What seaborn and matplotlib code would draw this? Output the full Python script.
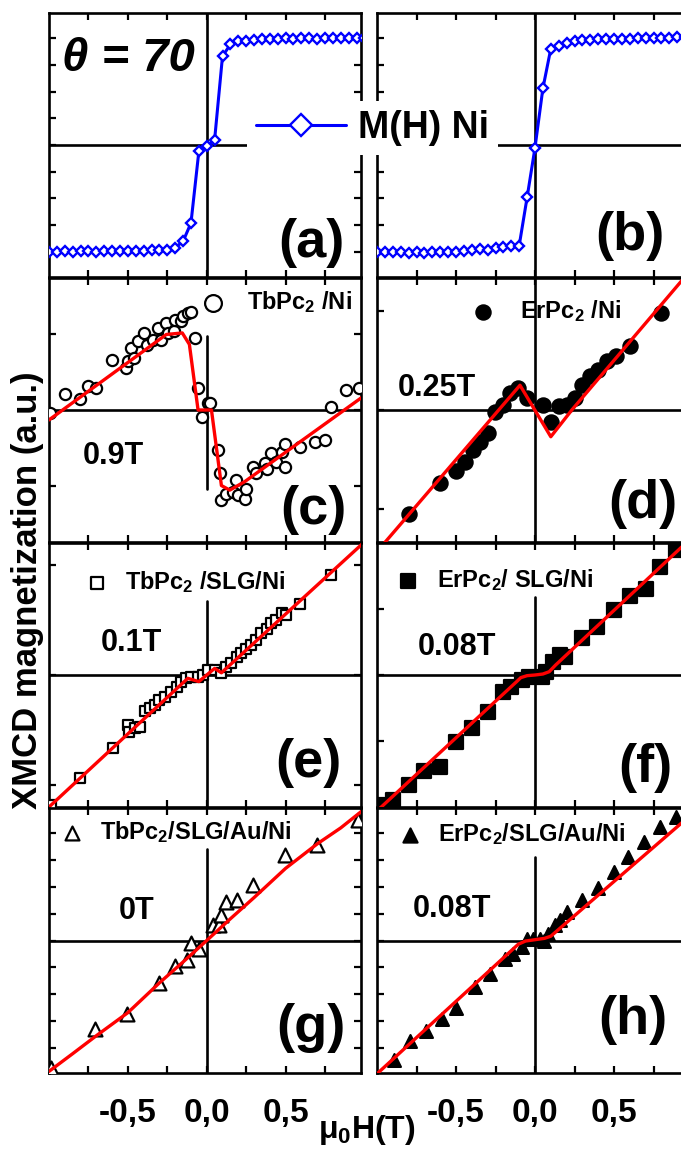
import numpy as np
import matplotlib
matplotlib.use("Agg")
import matplotlib.pyplot as plt
import seaborn as sns

# ---------------- data ----------------
# (a), (b): M(H) of Ni, field grid in T
ni_field = [-1.0, -0.95, -0.9, -0.85, -0.8, -0.75, -0.7, -0.65, -0.6, -0.55, -0.5, -0.45, -0.4, -0.35,
            -0.3, -0.25, -0.2, -0.15, -0.1, -0.05, 0.0, 0.05, 0.1, 0.15, 0.2, 0.25, 0.3, 0.35, 0.4,
            0.45, 0.5, 0.55, 0.6, 0.65, 0.7, 0.75, 0.8, 0.85, 0.9, 0.95, 1.0]
ni_a = [-1.0, -1.0, -0.99, -1.0, -0.99, -0.99, -1.0, -0.99, -0.99, -0.99, -0.99, -0.99, -0.99, -0.98,
        -0.98, -0.98, -0.96, -0.90, -0.73, -0.06, -0.01, 0.05, 0.83, 0.94, 0.97, 0.97, 0.98, 0.99,
        0.99, 0.99, 1.0, 0.99, 1.0, 1.0, 0.99, 1.0, 1.0, 1.0, 1.0, 1.0, 1.0]
ni_b = [-1.0, -1.0, -1.0, -1.0, -1.01, -1.0, -1.01, -1.0, -1.0, -1.0, -1.0, -0.99, -0.98, -0.975,
        -0.98, -0.96, -0.95, -0.945, -0.94, -0.49, -0.025, 0.53, 0.90, 0.925, 0.956, 0.97, 0.98,
        0.985, 0.99, 0.99, 0.99, 0.995, 0.995, 1.0, 1.0, 1.0, 1.0, 1.0, 1.005, 1.005, 1.01]

# (c) TbPc2/Ni
c_x = [-0.996, -0.90, -0.805, -0.75, -0.70, -0.60, -0.514, -0.50, -0.48, -0.46, -0.435, -0.40, -0.38,
       -0.34, -0.31, -0.29, -0.256, -0.245, -0.21, -0.20, -0.16, -0.15, -0.12, -0.10, -0.076, -0.055,
       -0.03, 0.008, 0.02, 0.072, 0.082, 0.093, 0.125, 0.165, 0.188, 0.20, 0.24, 0.25, 0.293, 0.315,
       0.37, 0.38, 0.41, 0.44, 0.474, 0.495, 0.495, 0.59, 0.685, 0.75, 0.79, 0.885, 0.965]
c_y = [-0.04, 0.21, 0.15, 0.31, 0.285, 0.66, 0.55, 0.64, 0.81, 0.68, 0.90, 1.01, 0.855, 0.92, 1.07,
       0.92, 1.14, 1.01, 1.03, 1.18, 1.16, 1.23, 1.27, 1.29, 0.94, 0.285, -0.09, 0.09, 0.09, -0.53,
       -0.83, -1.18, -1.10, -1.07, -0.92, -1.12, -1.16, -1.03, -0.75, -0.83, -0.70, -0.77, -0.57,
       -0.68, -0.55, -0.75, -0.44, -0.48, -0.42, -0.39, 0.04, 0.26, 0.285]
c_fit_x = [-1.0, -0.256, -0.155, -0.11, -0.055, 0.03, 0.093, 0.146, 0.24, 0.98]
c_fit_y = [-0.13, 0.99, 1.01, 0.86, 0.0, 0.0, -0.99, -1.05, -0.94, 0.16]

# (d) ErPc2/Ni
d_x = [-0.80, -0.60, -0.50, -0.44, -0.39, -0.345, -0.296, -0.254, -0.20, -0.16, -0.106, -0.053,
       0.049, 0.10, 0.152, 0.20, 0.25, 0.296, 0.35, 0.40, 0.455, 0.51, 0.60, 0.80]
d_y = [-1.05, -0.74, -0.62, -0.53, -0.40, -0.32, -0.236, -0.017, 0.05, 0.17, 0.22, 0.12, 0.05,
       -0.12, 0.04, 0.05, 0.12, 0.25, 0.34, 0.40, 0.49, 0.55, 0.65, 0.98]
d_fit_x = [-1.0, -0.095, 0.10, 0.233, 1.0]
d_fit_y = [-1.43, 0.25, -0.27, 0.0, 1.44]

# (e) TbPc2/SLG/Ni
e_x = [-0.985, -0.805, -0.594, -0.50, -0.49, -0.457, -0.425, -0.393, -0.36, -0.33, -0.30, -0.265,
       -0.224, -0.19, -0.16, -0.13, -0.097, -0.055, -0.023, 0.008, 0.05, 0.093, 0.125, 0.156, 0.19,
       0.22, 0.25, 0.28, 0.315, 0.345, 0.38, 0.41, 0.44, 0.475, 0.505, 0.59, 0.79]
e_y = [-1.18, -0.94, -0.66, -0.455, -0.515, -0.485, -0.47, -0.33, -0.30, -0.27, -0.23, -0.20, -0.15,
       -0.11, -0.06, -0.03, -0.015, -0.015, 0.0, 0.045, 0.045, 0.015, 0.076, 0.106, 0.167, 0.197,
       0.24, 0.27, 0.32, 0.38, 0.42, 0.47, 0.50, 0.56, 0.545, 0.65, 0.91]
e_fit_x = [-1.0, -0.12, -0.05, 0.05, 0.093, 1.0]
e_fit_y = [-1.20, -0.03, -0.06, 0.06, 0.02, 1.21]

# (f) ErPc2/SLG/Ni
f_x = [-0.98, -0.90, -0.80, -0.70, -0.60, -0.50, -0.40, -0.296, -0.20, -0.155, -0.085, -0.04,
       0.042, 0.07, 0.116, 0.16, 0.19, 0.296, 0.39, 0.50, 0.60, 0.70, 0.79, 0.89]
f_y = [-1.97, -1.89, -1.67, -1.46, -1.39, -1.01, -0.81, -0.56, -0.25, -0.18, -0.076, -0.025,
       -0.025, 0.05, 0.20, 0.30, 0.28, 0.56, 0.73, 0.98, 1.19, 1.31, 1.64, 1.89]
f_fit_x = [-1.0, -0.116, -0.09, -0.05, 0.0, 0.05, 0.09, 0.13, 1.0]
f_fit_y = [-2.06, -0.10, -0.04, -0.01, 0.0, 0.015, 0.05, 0.15, 2.10]

# (g) TbPc2/SLG/Au/Ni
g_x = [-0.985, -0.71, -0.503, -0.30, -0.203, -0.125, -0.097, -0.049, 0.04, 0.08, 0.093, 0.125,
       0.192, 0.294, 0.495, 0.696, 0.96]
g_y = [-4.75, -3.31, -2.75, -1.6, -0.96, -0.72, -0.10, -0.31, 0.56, 0.56, 0.94, 1.44, 1.50, 2.06,
       3.19, 3.56, 4.5]
g_fit_x = [-1.0, -0.85, -0.7, -0.5, -0.3, -0.15, 0.0, 0.15, 0.3, 0.5, 0.7, 0.85, 0.98]
g_fit_y = [-4.88, -4.22, -3.55, -2.69, -1.58, -0.80, 0.0, 0.81, 1.6, 2.69, 3.6, 4.2, 4.81]

# (h) ErPc2/SLG/Au/Ni
h_x = [-0.89, -0.79, -0.69, -0.59, -0.50, -0.38, -0.285, -0.19, -0.138, -0.085, -0.053, -0.01,
       0.03, 0.06, 0.085, 0.127, 0.16, 0.20, 0.296, 0.40, 0.50, 0.59, 0.687, 0.79, 0.89]
h_y = [-4.44, -3.75, -3.38, -2.94, -2.5, -1.75, -1.25, -0.69, -0.5, -0.25, 0.06, 0.06, 0.06, 0.0,
       0.25, 0.56, 0.75, 1.06, 1.5, 1.94, 2.56, 3.12, 3.69, 4.25, 4.62]
h_fit_x = [-1.0, -0.106, -0.06, 0.0, 0.06, 0.1, 1.0]
h_fit_y = [-4.97, -0.14, -0.02, 0.03, 0.08, 0.16, 4.75]

panel_labels = ["(a)", "(b)", "(c)", "(d)", "(e)", "(f)", "(g)", "(h)"]
field_labels = {"c": "0.9T", "d": "0.25T", "e": "0.1T", "f": "0.08T", "g": "0T", "h": "0.08T"}
legend_labels = {"c": "TbPc$_2$ /Ni", "d": "ErPc$_2$ /Ni", "e": "TbPc$_2$ /SLG/Ni",
                 "f": "ErPc$_2$/ SLG/Ni", "g": "TbPc$_2$/SLG/Au/Ni", "h": "ErPc$_2$/SLG/Au/Ni"}
xtick_pos = [-0.75, -0.5, -0.25, 0.0, 0.25, 0.5, 0.75]
xtick_lab = ["", "-0,5", "", "0,0", "", "0,5", ""]

# ---------------- style ----------------
sns.set_theme(style="ticks")
plt.rcParams["font.family"] = ["Liberation Sans", "DejaVu Sans"]
plt.rcParams["font.weight"] = "bold"
plt.rcParams["text.color"] = "black"
plt.rcParams["xtick.color"] = "black"
plt.rcParams["ytick.color"] = "black"
plt.rcParams["axes.edgecolor"] = "black"
plt.rcParams["mathtext.fontset"] = "custom"
plt.rcParams["mathtext.rm"] = "Liberation Sans:bold"
plt.rcParams["mathtext.it"] = "Liberation Sans:bold:italic"
plt.rcParams["mathtext.bf"] = "Liberation Sans:bold"
plt.rcParams["mathtext.default"] = "rm"

W, H = 681, 1151
fig = plt.figure(figsize=(W / 100, H / 100), dpi=100)

def fx(px):
    return px / W

row_px = [(13, 277), (278, 542), (543, 807), (808, 1073)]
col_px = [(49, 361), (377, 693)]
xlims = [(-1.0, 0.978), (-1.0, 1.0)]
axes = {}
keys = [["a", "b"], ["c", "d"], ["e", "f"], ["g", "h"]]
for r, (t, b) in enumerate(row_px):
    for c, (l, rr) in enumerate(col_px):
        ax = fig.add_axes([l / W, 1 - b / H, (rr - l) / W, (b - t) / H])
        ax.set_xlim(*xlims[c])
        axes[keys[r][c]] = ax

ylims = {"a": 1.234, "b": 1.234, "c": 1.73, "d": 1.333, "e": 1.2, "f": 2.0, "g": 4.94, "h": 4.94}
ystep = {"a": 0.25, "b": 0.25, "c": 1, "d": 1, "e": 1, "f": 1, "g": 1, "h": 1}
vline_span = {"a": (0, 1), "b": (0, 1), "c": (0.2, 0.78), "d": (0, 1), "e": (0, 0.78),
              "f": (0, 0.795), "g": (0, 0.845), "h": (0, 0.815)}

for k, ax in axes.items():
    lim = ylims[k]
    ax.set_ylim(-lim, lim)
    st = ystep[k]
    n = int(lim / st)
    ax.set_yticks([i * st for i in range(-n, n + 1)])
    ax.set_xticks(xtick_pos)
    ax.tick_params(direction="in", top=True, right=True, length=5, width=1.6,
                   labelleft=False, labelbottom=False, pad=18, labelsize=24,
                   color="black", labelcolor="black")
    for sp in ax.spines.values():
        sp.set_linewidth(1.9)
        sp.set_color("black")
    ax.axhline(0, color="black", lw=1.9, zorder=1)
    y0, y1 = vline_span[k]
    ax.axvline(0, ymin=y0, ymax=y1, color="black", lw=1.9, zorder=1)
    ax.set_xlabel("")
    ax.set_ylabel("")

for k in ["g", "h"]:
    axes[k].tick_params(labelbottom=True)
    axes[k].set_xticklabels(xtick_lab, fontweight="bold")

# (a), (b) Ni curves
ni_lines = []
for k, yy in [("a", ni_a), ("b", ni_b)]:
    sns.lineplot(x=ni_field, y=yy, ax=axes[k], color="#0000ff", lw=2.2, marker="D", markersize=5.5,
                 markerfacecolor="white", markeredgecolor="#0000ff", markeredgewidth=1.7,
                 sort=False, estimator=None, zorder=3, legend=False)
    ni_lines.append(axes[k].get_lines()[-1])

axes["a"].text(0.253, 0.826, "θ = 70", transform=axes["a"].transAxes, ha="center", va="center",
               fontsize=34, fontweight="bold", fontstyle="italic")

leg = fig.legend([ni_lines[0]], ["M(H) Ni"], loc="center left", bbox_to_anchor=(fx(247), 1 - 128 / H),
                 fontsize=27, handlelength=2.4, handletextpad=0.3, borderpad=0.25,
                 borderaxespad=0, markerscale=2.1, frameon=True, fancybox=False,
                 facecolor="white", edgecolor="none", framealpha=1)

# scatter panels
specs = {
    "c": (c_x, c_y, c_fit_x, c_fit_y, "o", "white", 65),
    "d": (d_x, d_y, d_fit_x, d_fit_y, "o", "black", 105),
    "e": (e_x, e_y, e_fit_x, e_fit_y, "s", "white", 50),
    "f": (f_x, f_y, f_fit_x, f_fit_y, "s", "black", 95),
    "g": (g_x, g_y, g_fit_x, g_fit_y, "^", "white", 100),
    "h": (h_x, h_y, h_fit_x, h_fit_y, "^", "black", 85),
}
leg_pos = {"c": (0.487, 0.909, 0.95), "d": (0.297, 0.875, 1.08), "e": (0.115, 0.852, 0.69),
           "f": (0.06, 0.86, 0.74), "g": (0.035, 0.909, 0.69), "h": (0.066, 0.90, 0.69)}
mscale = {"c": 1.5, "d": 1.0, "e": 1.2, "f": 1.0, "g": 1.0, "h": 1.1}
for k, (xs, ys, fxs, fys, mk, fc, s) in specs.items():
    ax = axes[k]
    sns.scatterplot(x=xs, y=ys, ax=ax, marker=mk, s=s, facecolor=fc, edgecolor="black",
                    linewidth=1.6, zorder=3, legend=False, clip_on=True)
    sns.lineplot(x=fxs, y=fys, ax=ax, color="#ff0000", lw=2.4, sort=False, estimator=None,
                 zorder=4, legend=False)
    lx, ly, tp = leg_pos[k]
    ax.legend([ax.collections[0]], [legend_labels[k]], loc="center left",
              bbox_to_anchor=(lx, ly), bbox_transform=ax.transAxes, fontsize=17,
              handlelength=1.0, handletextpad=tp, borderpad=0, borderaxespad=0,
              scatterpoints=1, markerscale=mscale[k], frameon=False)

# field labels
field_pos = {"c": (0.205, 0.327), "d": (0.19, 0.583), "e": (0.263, 0.621), "f": (0.253, 0.606),
             "g": (0.282, 0.61), "h": (0.237, 0.617)}
for k, txt in field_labels.items():
    x, y = field_pos[k]
    axes[k].text(x, y, txt, transform=axes[k].transAxes, ha="center", va="center",
                 fontsize=22, fontweight="bold", zorder=6)

# panel labels
lab_pos = [(0.84, 0.13), (0.80, 0.155), (0.846, 0.12), (0.84, 0.145), (0.833, 0.167),
           (0.85, 0.148), (0.84, 0.17), (0.81, 0.20)]
for k, lab, (x, y) in zip("abcdefgh", panel_labels, lab_pos):
    axes[k].text(x, y, lab, transform=axes[k].transAxes, ha="center", va="center",
                 fontsize=39, fontweight="bold", zorder=6)

fig.text(fx(28), 1 - 590 / H, "XMCD magnetization (a.u.)", rotation=90, ha="center",
         va="center", fontsize=25, fontweight="bold")
fig.text(fx(367), 1 - 1130 / H, "μ$_0$H(T)", ha="center", va="center", fontsize=23,
         fontweight="bold")

fig.savefig("out.png", dpi=100)
